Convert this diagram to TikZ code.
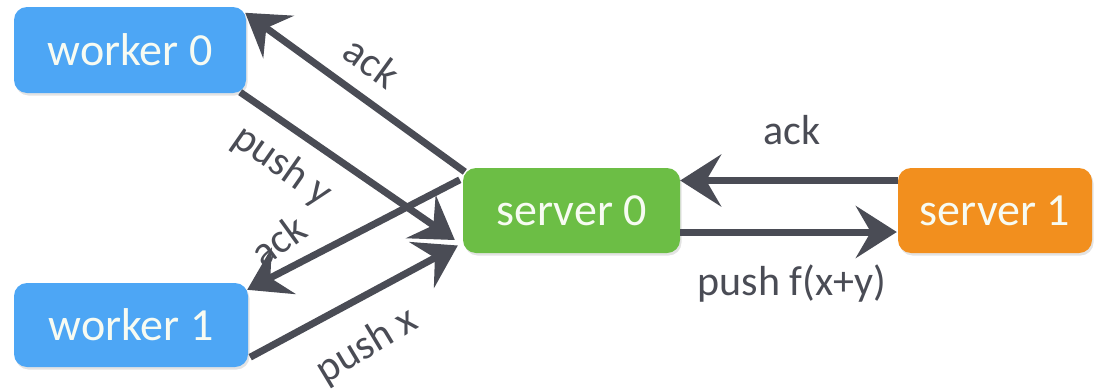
\documentclass[tikz,border=0pt]{standalone}
\usepackage{fontspec}
\setmainfont{Carlito}
\usetikzlibrary{arrows.meta,shadows}

\definecolor{wblue}{HTML}{4DA6F5}
\definecolor{sgreen}{HTML}{6CBE45}
\definecolor{sorange}{HTML}{F28F1E}
\definecolor{ink}{HTML}{4A4C55}
\definecolor{boxtext}{HTML}{F7FBF2}

\tikzset{
  box/.style={rounded corners=13pt, draw=none, text=boxtext,
    font=\fontsize{46}{50}\selectfont, inner sep=0pt,
    minimum height=85pt,
    drop shadow={opacity=0.22, shadow xshift=1.5pt, shadow yshift=-2.5pt}},
  msg/.style={draw=ink, line width=7pt,
    -{Stealth[length=41pt, width=52pt, inset=15pt]}},
  lbl/.style={text=ink, font=\fontsize{42}{46}\selectfont, inner sep=0pt}
}

\begin{document}
\begin{tikzpicture}[x=1pt, y=-1pt]
  \useasboundingbox (0,0) rectangle (1099,391);

  % machines
  \node[box, fill=wblue, minimum width=232pt, minimum height=86pt] (w0) at (130,50) {worker 0};
  \node[box, fill=wblue, minimum width=234pt, minimum height=84pt] (w1) at (131,325) {worker 1};
  \node[box, fill=sgreen, minimum width=217pt] (s0) at (571.5,210.5) {server 0};
  \node[box, fill=sorange, minimum width=194pt] (s1) at (995,210.5) {server 1};

  % workers <-> server 0
  \draw[msg] ([shift={(2,4)}]s0.north west) -- ([shift={(-1,6)}]w0.north east);
  \draw[msg] ([shift={(-6,-1)}]w0.south east) -- ([shift={(-8,29.5)}]s0.west);
  \draw[msg] ([shift={(-3,12)}]s0.north west) -- ([shift={(-1,7)}]w1.north east);
  \draw[msg] ([shift={(2,-10)}]w1.south east) -- ([shift={(-5,35)}]s0.west);

  % server 0 <-> server 1
  \draw[msg] ([shift={(0,-30)}]s1.west) -- ([shift={(0,-30)}]s0.east);
  \draw[msg] ([shift={(0,21.5)}]s0.east) -- ([shift={(-1,21.5)}]s1.west);

  % labels
  \node[lbl, rotate=-36] (l1) at (372,62) {ack};
  \node[lbl, rotate=-35] (l2) at (282,166) {push y};
  \node[lbl, rotate=36]  (l3) at (278,240) {ack};
  \node[lbl, rotate=31]  (l4) at (367,346) {push x};
  \node[lbl] (l5) at (792,130) {ack};
  \node[lbl] (l6) at (792,284) {push f(x+y)};
\end{tikzpicture}
\end{document}
